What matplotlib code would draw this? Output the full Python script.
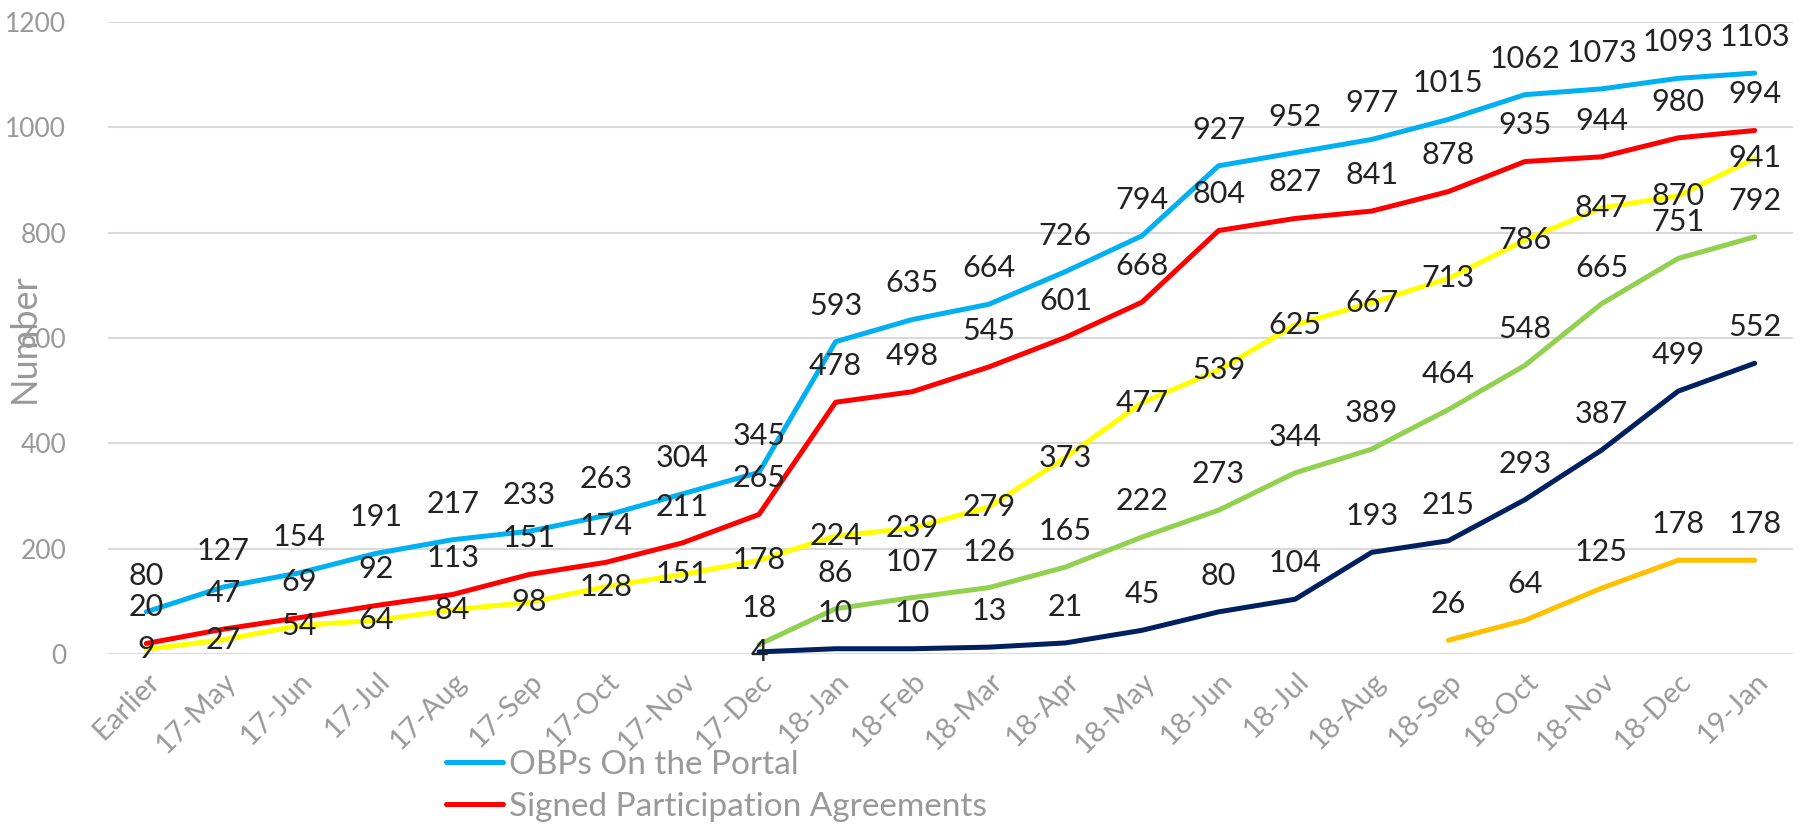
import matplotlib.pyplot as plt

categories = ["Earlier", "17-May", "17-Jun", "17-Jul", "17-Aug", "17-Sep", "17-Oct",
              "17-Nov", "17-Dec", "18-Jan", "18-Feb", "18-Mar", "18-Apr", "18-May",
              "18-Jun", "18-Jul", "18-Aug", "18-Sep", "18-Oct", "18-Nov", "18-Dec",
              "19-Jan"]

obps_portal = [80, 127, 154, 191, 217, 233, 263, 304, 345, 593, 635, 664, 726, 794,
               927, 952, 977, 1015, 1062, 1073, 1093, 1103]
signed_agreements = [20, 47, 69, 92, 113, 151, 174, 211, 265, 478, 498, 545, 601, 668,
                     804, 827, 841, 878, 935, 944, 980, 994]
yellow_series = [9, 27, 54, 64, 84, 98, 128, 151, 178, 224, 239, 279, 373, 477,
                 539, 625, 667, 713, 786, 847, 870, 941]
# these start later in the timeline
green_start = "17-Dec"
green_series = [18, 86, 107, 126, 165, 222, 273, 344, 389, 464, 548, 665, 751, 792]
navy_start = "17-Dec"
navy_series = [4, 10, 10, 13, 21, 45, 80, 104, 193, 215, 293, 387, 499, 552]
orange_start = "18-Sep"
orange_series = [26, 64, 125, 178, 178]

FONT = ["Lato", "DejaVu Sans"]
GRAY = "#999999"
LABEL_COLOR = "#222222"


def main() -> None:
    plt.rcParams["font.family"] = FONT
    fig = plt.figure(figsize=(18.1, 8.3), dpi=100)
    ax = fig.add_axes([108 / 1810, 1 - 654 / 830, (1793 - 108) / 1810, (654 - 22) / 830])

    x_all = list(range(len(categories)))

    # (name, x, y, colour, label offset in points)
    series = [
        ("OBPs On the Portal", x_all, obps_portal, "#00B0F0", 26),
        ("Signed Participation Agreements", x_all, signed_agreements, "#FF0000", 26),
        ("_yellow", x_all, yellow_series, "#FFFF00", 0),
        ("_green", x_all[categories.index(green_start):], green_series, "#92D050", 26),
        ("_navy", x_all[categories.index(navy_start):], navy_series, "#002060", 26),
        ("_orange", x_all[categories.index(orange_start):], orange_series, "#FFC000", 26),
    ]

    for name, xs, ys, color, _ in series:
        ax.plot(xs, ys, color=color, lw=3.6, label=name, solid_capstyle="round", zorder=3)

    for name, xs, ys, color, off in series:
        for i, (x, y) in enumerate(zip(xs, ys)):
            dy = off
            if name == "_navy" and i == 0:
                dy = 0
            ax.annotate(str(y), (x, y), xytext=(0, dy), textcoords="offset points",
                        ha="center", va="center", fontsize=22, color=LABEL_COLOR,
                        zorder=5)

    ax.set_xlim(-0.5, len(categories) - 0.5)
    ax.set_ylim(0, 1200)
    ax.set_yticks(range(0, 1201, 200))
    ax.set_xticks(x_all)
    ax.set_xticklabels(categories, rotation=45, ha="right", rotation_mode="anchor")
    ax.tick_params(axis="y", length=0, labelsize=19, labelcolor=GRAY, pad=30)
    ax.tick_params(axis="x", length=0, labelsize=21, labelcolor=GRAY, pad=10)
    ax.grid(axis="y", color="#D9D9D9", lw=1.5)
    ax.set_axisbelow(True)
    for s in ax.spines.values():
        s.set_visible(False)

    ax.set_ylabel("Number", fontsize=26, color=GRAY)
    ax.yaxis.set_label_coords(-0.04, 0.5)

    fig.legend(loc="upper left", bbox_to_anchor=(446 / 1810, 1 - 750 / 830),
               frameon=False, fontsize=24, labelcolor=GRAY, handlelength=1.7,
               handletextpad=0.2, labelspacing=0.35, borderpad=0, borderaxespad=0)

    fig.savefig("out.png", dpi=100)


if __name__ == "__main__":
    main()
